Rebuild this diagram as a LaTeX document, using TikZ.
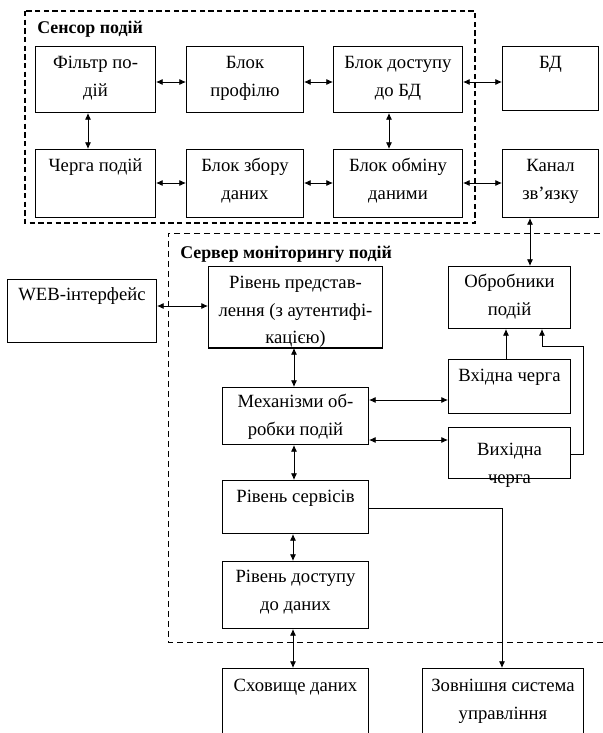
\documentclass[tikz,border=0pt]{standalone}
\usepackage{fontspec}
\setmainfont{Liberation Serif}
\usetikzlibrary{arrows.meta}
\newdimen\px \px=0.75pt
\tikzset{
  box/.style={draw, line width=0.75pt, inner sep=0pt, anchor=north west},
  dbl/.style={line width=0.6pt, {Latex[length=5pt,width=4.5pt]}-{Latex[length=5pt,width=4.5pt]}},
  one/.style={line width=0.6pt, -{Latex[length=5pt,width=4.5pt]}},
  ttl/.style={anchor=base west, inner sep=0pt, font=\fontsize{13.4}{16}\selectfont\bfseries},
  sensorline/.style={line width=1.8pt, dash pattern=on 4pt off 2.5pt},
  serverline/.style={line width=0.6pt, dash pattern=on 4.5pt off 3pt},
}
% name, x, y, w, h, first-baseline offset, text
\newcommand\bx[7]{%
  \node[box] (#1) at (#2,#3) {\parbox[t][#5\px][t]{#4\px}{\centering\baselineskip=27.5\px\rule{0pt}{#6\px}#7\par}};}
\begin{document}
\begin{tikzpicture}[x=0.75pt, y=-0.75pt]
\fontsize{14}{20.6}\selectfont
\clip (0,0) rectangle (603,733);
% containers
\draw[sensorline] (25,11) rectangle (475,223);
\draw[serverline] (610,233) -- (168,233) -- (168,642) -- (610,642);
\node[ttl] (tsens) at (37,33) {Сенсор подій};
\node[ttl] (tserv) at (180,258) {Сервер моніторингу подій};
% sensor boxes
\bx{filtr}{35}{46}{120}{66}{22}{Фільтр по-\\дій}
\bx{prof}{186}{46}{117}{66}{22}{Блок\\профілю}
\bx{dost}{333}{46}{129}{66}{22}{Блок доступу\\до БД}
\bx{bd}{502}{46}{96}{64}{22}{БД}
\bx{cherga}{35}{149}{120}{68}{22}{Черга подій}
\bx{zbir}{186}{149}{117}{68}{22}{Блок збору\\даних}
\bx{obmin}{333}{149}{129}{68}{22}{Блок обміну\\даними}
\bx{kanal}{502}{149}{96}{68}{22}{Канал\\зв'язку}
% server boxes
\bx{web}{7}{279}{149}{63}{21}{WEB-інтерфейс}
\bx{pred}{208}{266}{174}{81}{22}{Рівень представ-\\лення (з аутентифі-\\кацією)}
\draw[line width=1.5pt] (pred.south west) -- (pred.south east);
\bx{obrob}{448}{266}{122}{62}{21}{Обробники\\подій}
\bx{mekh}{222}{387}{146}{57}{20}{Механізми об-\\робки подій}
\bx{vkh}{448}{359}{122}{54}{22}{Вхідна черга}
\bx{vykh}{448}{427}{122}{51}{28}{Вихідна\\черга}
\bx{serv}{222}{480}{146}{53}{22}{Рівень сервісів}
\bx{dostup}{222}{561}{146}{67}{21}{Рівень доступу\\до даних}
\bx{skhov}{222}{668}{146}{90}{23}{Сховище даних}
\bx{zovn}{422}{668}{161}{90}{23}{Зовнішня система\\управління}
% sensor connectors
\draw[dbl] (filtr.east |- 0,82) -- (prof.west |- 0,82);
\draw[dbl] (prof.east |- 0,82) -- (dost.west |- 0,82);
\draw[dbl] (dost.east |- 0,82) -- (bd.west |- 0,82);
\draw[dbl] (cherga.east |- 0,183) -- (zbir.west |- 0,183);
\draw[dbl] (zbir.east |- 0,183) -- (obmin.west |- 0,183);
\draw[dbl] (obmin.east |- 0,183) -- (kanal.west |- 0,183);
\draw[dbl] (filtr.south -| 88,0) -- (cherga.north -| 88,0);
\draw[dbl] (dost.south -| 389,0) -- (obmin.north -| 389,0);
\draw[dbl] (kanal.south -| 530,0) -- (obrob.north -| 530,0);
% server connectors
\draw[dbl] (web.east |- 0,306) -- (pred.west |- 0,306);
\draw[dbl] (pred.south -| 294,0) -- (mekh.north -| 294,0);
\draw[dbl] (mekh.east |- 0,400) -- (vkh.west |- 0,400);
\draw[dbl] (mekh.east |- 0,440) -- (vykh.west |- 0,440);
\draw[dbl] (mekh.south -| 294,0) -- (serv.north -| 294,0);
\draw[dbl] (serv.south -| 293,0) -- (dostup.north -| 293,0);
\draw[dbl] (dostup.south -| 293,0) -- (skhov.north -| 293,0);
\draw[one] (vkh.north -| 506,0) -- (obrob.south -| 506,0);
\draw[one] (vykh.east |- 0,454) -- (583,454) -- (583,346) -- (542,346) -- (obrob.south -| 542,0);
\draw[one] (serv.east |- 0,508) -- (502,508) -- (zovn.north -| 502,0);
\end{tikzpicture}
\end{document}
